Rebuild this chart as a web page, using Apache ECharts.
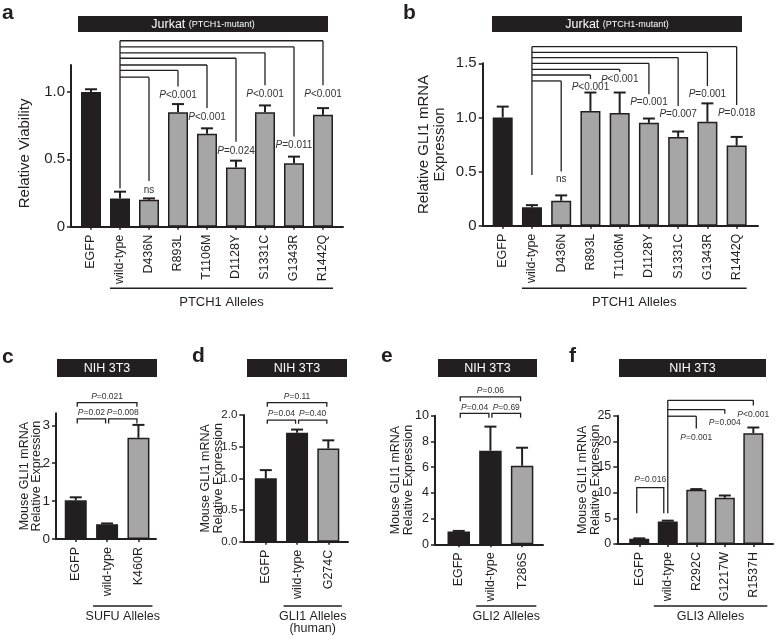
<!DOCTYPE html>
<html><head><meta charset="utf-8">
<script src="https://cdn.jsdelivr.net/npm/echarts@6/dist/echarts.min.js"></script>
<style>html,body{margin:0;padding:0;background:#fff}#c{width:779px;height:641px}</style>
</head><body><div id="c"></div>
<script>
// ===================== DATA =====================
// Panel a: Jurkat, relative viability
const aCats = ['EGFP','wild-type','D436N','R893L','T1106M','D1128Y','S1331C','G1343R','R1442Q'];
const aMeans = [1.00,0.21,0.20,0.85,0.69,0.44,0.85,0.47,0.83];
const aSem = [0.02,0.05,0.01,0.06,0.04,0.05,0.05,0.05,0.05];
const aTicks = [0,0.5,1.0];
const aTargets = [2,3,4,5,6,7,8];
const aBracketLevels = [1.11,1.16,1.20,1.25,1.29,1.335,1.38];
const aBracketEnds = [0.34,1.04,0.88,0.63,1.05,0.67,1.05];
const aBracketRoot = 0.285;
const aPLabels = ['ns','P<0.001','P<0.001','P=0.024','P<0.001','P=0.011','P<0.001'];

// Panel b: Jurkat, relative GLI1 mRNA
const bCats = ['EGFP','wild-type','D436N','R893L','T1106M','D1128Y','S1331C','G1343R','R1442Q'];
const bMeans = [1.00,0.17,0.23,1.06,1.04,0.95,0.82,0.96,0.74];
const bSem = [0.10,0.02,0.05,0.17,0.19,0.04,0.05,0.17,0.08];
const bTicks = [0,0.5,1.0,1.5];
const bTargets = [2,3,4,5,6,7,8];
const bBracketLevels = [1.337,1.392,1.444,1.50,1.552,1.601,1.654];
const bBracketEnds = [0.50,1.355,1.422,1.213,1.106,1.29,1.115];
const bBracketRoot = 0.468;
const bPLabels = ['ns','P<0.001','P<0.001','P=0.001','P=0.007','P=0.001','P=0.018'];

// Panel c: SUFU alleles
const cCats = ['EGFP','wild-type','K460R'];
const cMeans = [1.02,0.39,2.67];
const cSem = [0.08,0.02,0.34];
const cTicks = [0,1,2,3];
const cPairs = [[0,1],[1,2],[0,2]];
const cPairLevels = [3.17,3.17,3.60];
const cPairDrops = [3.05,3.05,3.49];
const cPLabels = ['P=0.02','P=0.008','P=0.021'];

// Panel d: GLI1 alleles (human)
const dCats = ['EGFP','wild-type','G274C'];
const dMeans = [1.00,1.72,1.47];
const dSem = [0.13,0.05,0.13];
const dTicks = [0,0.5,1.0,1.5,2.0];
const dPairs = [[0,1],[1,2],[0,2]];
const dPairLevels = [1.92,1.92,2.195];
const dPairDrops = [1.86,1.86,2.13];
const dPLabels = ['P=0.04','P=0.40','P=0.11'];

// Panel e: GLI2 alleles
const eCats = ['EGFP','wild-type','T286S'];
const eMeans = [1.00,7.28,6.11];
const eSem = [0.04,1.87,1.40];
const eTicks = [0,2,4,6,8,10];
const ePairs = [[0,1],[1,2],[0,2]];
const ePairLevels = [10.18,10.18,11.47];
const ePairDrops = [9.84,9.84,11.13];
const ePLabels = ['P=0.04','P=0.69','P=0.06'];

// Panel f: GLI3 alleles
const fCats = ['EGFP','wild-type','R292C','G1217W','R1537H'];
const fMeans = [1.00,4.40,10.55,9.00,21.60];
const fSem = [0.10,0.15,0.15,0.45,1.10];
const fTicks = [0,5,10,15,20,25];
const fPairs = [[0,1]];
const fPairLevels = [11.0];
const fPairDrops = [6.0];
const fPairLabels = ['P=0.016'];
const fTargets = [2,3,4];
const fBracketLevels = [24.9,26.2,28.0];
const fBracketEnds = [22.5,25.4,27.0];
const fBracketRoot = 6.0;
const fPLabels = ['P=0.001','P=0.004','P<0.001'];

// ===================== STYLE / LAYOUT =====================
const INK = '#231f20', GRAY = '#a6a6a6', PCOL = '#333333';
const FONT = '"Liberation Sans", Arial, Helvetica, sans-serif';

const fmt1 = v => (v === 0 ? '0' : v.toFixed(1));
const fmtInt = v => String(Math.round(v));
const fmtFix = v => v.toFixed(1);

const panels = [
  { letter:'a', lx:2, ly:13, cats:aCats, means:aMeans, sem:aSem, ticks:aTicks, yfmt:fmt1,
    grid:{left:71, top:65, width:272, height:161.7}, xr:[-0.69, 8.69], ymax:1.2,
    tickFont:15, name:'Relative Viability', nameGap:38, nameFont:15, nameLH:17, namePad:[0,15,0,0],
    barW:20, labelFont:12.5, group:'PTCH1 Alleles', groupLineY:288.3, groupTextY:296, groupFont:13, groupLH:13, groupExt:0,
    fan:{targets:aTargets, levels:aBracketLevels, ends:aBracketEnds, root:aBracketRoot, labels:aPLabels, font:10, gap:9},
    banner:{x:78, y:16, w:250, h:16, big:'Jurkat', small:'(PTCH1-mutant)'} },
  { letter:'b', lx:403, ly:13, cats:bCats, means:bMeans, sem:bSem, ticks:bTicks, yfmt:fmt1,
    grid:{left:482.7, top:63.3, width:275.3, height:162.4}, xr:[-0.684, 8.73], ymax:1.5,
    tickFont:15, name:'Relative GLI1 mRNA\nExpression', nameGap:34, nameFont:15, nameLH:16.7, namePad:0,
    barW:20, labelFont:12.5, group:'PTCH1 Alleles', groupLineY:288.3, groupTextY:296, groupFont:13, groupLH:13, groupExt:0,
    fan:{targets:bTargets, levels:bBracketLevels, ends:bBracketEnds, root:bBracketRoot, labels:bPLabels, font:10, gap:8},
    banner:{x:492, y:16, w:250, h:16, big:'Jurkat', small:'(PTCH1-mutant)'} },
  { letter:'c', lx:2, ly:357, cats:cCats, means:cMeans, sem:cSem, ticks:cTicks, yfmt:fmtInt,
    grid:{left:56, top:413.3, width:100, height:125.7}, xr:[-0.63, 2.56], ymax:3.316,
    tickFont:13.5, name:'Mouse GLI1 mRNA\nRelative Expression', nameGap:14, nameFont:12.5, nameLH:11.6, namePad:0,
    barW:22, labelFont:12.5, group:'SUFU Alleles', groupLineY:606, groupTextY:610.5, groupFont:12.5, groupLH:12, groupExt:3,
    pairs:{pairs:cPairs, levels:cPairLevels, drops:cPairDrops, labels:cPLabels, font:8.5, gap:6, inset:[1.5,1.5]},
    banner:{x:57, y:359, w:100, h:18, big:'NIH 3T3'} },
  { letter:'d', lx:192, ly:356, cats:dCats, means:dMeans, sem:dSem, ticks:dTicks, yfmt:fmtFix,
    grid:{left:243.3, top:415, width:104.7, height:126.7}, xr:[-0.72, 2.63], ymax:2.0,
    tickFont:11.5, name:'Mouse GLI1 mRNA\nRelative Expression', nameGap:18, nameFont:12.5, nameLH:13.3, namePad:0,
    barW:22, labelFont:12.5, group:'GLI1 Alleles\n(human)', groupLineY:606, groupTextY:610.8, groupFont:12.5, groupLH:11.6, groupExt:2.5,
    pairs:{pairs:dPairs, levels:dPairLevels, drops:dPairDrops, labels:dPLabels, font:8.5, gap:6, inset:[1.5,1.5]},
    banner:{x:247, y:359, w:100, h:18, big:'NIH 3T3'} },
  { letter:'e', lx:381, ly:356, cats:eCats, means:eMeans, sem:eSem, ticks:eTicks, yfmt:fmtInt,
    grid:{left:435, top:415.7, width:108, height:128.6}, xr:[-0.75, 2.66], ymax:10,
    tickFont:12.5, name:'Mouse GLI1 mRNA\nRelative Expression', nameGap:20, nameFont:12.5, nameLH:13.3, namePad:0,
    barW:22.5, labelFont:12.5, group:'GLI2 Alleles', groupLineY:606, groupTextY:610.5, groupFont:12.5, groupLH:12, groupExt:3,
    pairs:{pairs:ePairs, levels:ePairLevels, drops:ePairDrops, labels:ePLabels, font:8.5, gap:6, inset:[1.5,1.5]},
    banner:{x:438, y:359, w:99, h:18, big:'NIH 3T3'} },
  { letter:'f', lx:569, ly:356, cats:fCats, means:fMeans, sem:fSem, ticks:fTicks, yfmt:fmtInt,
    grid:{left:617.3, top:415.7, width:155.7, height:128.3}, xr:[-0.77, 4.69], ymax:25,
    tickFont:12.5, name:'Mouse GLI1 mRNA\nRelative Expression', nameGap:15, nameFont:12.5, nameLH:13.3, namePad:0,
    barW:20, labelFont:12.5, group:'GLI3 Alleles', groupLineY:606, groupTextY:610.5, groupFont:12.5, groupLH:12, groupExt:4,
    pairs:{pairs:fPairs, levels:fPairLevels, drops:fPairDrops, labels:fPairLabels, font:8.5, gap:8, inset:[-2.5,4]},
    fan:{targets:fTargets, levels:fBracketLevels, ends:fBracketEnds, root:fBracketRoot, labels:fPLabels, font:8.5, gap:9},
    banner:{x:619, y:359, w:147, h:18, big:'NIH 3T3'} }
];

// ===================== BUILD =====================
function pRich(s) {
  return s.charAt(0) === 'P' ? '{i|P}{n|' + s.slice(1) + '}' : '{n|' + s + '}';
}
function pText(s, x, y, size, va) {
  return { type:'text', style:{ text:pRich(s), x:x, y:y, align:'center', verticalAlign:va || 'middle',
    fontFamily:FONT, fontSize:size, fill:PCOL,
    rich:{ i:{fontStyle:'italic', fontSize:size, fontFamily:FONT, fill:PCOL}, n:{fontSize:size, fontFamily:FONT, fill:PCOL} } } };
}
function seg(x1,y1,x2,y2,w) {
  return { type:'line', shape:{x1:x1,y1:y1,x2:x2,y2:y2}, style:{stroke:INK, lineWidth:w || 1.3} };
}

const grids = [], xAxes = [], yAxes = [], series = [], graphics = [];

panels.forEach((p, gi) => {
  grids.push(Object.assign({}, p.grid));
  const idx = p.cats.map((c, i) => i);
  xAxes.push({
    gridIndex:gi, type:'value', min:p.xr[0], max:p.xr[1],
    axisLine:{show:true, onZero:false, lineStyle:{color:INK, width:2}},
    axisTick:{show:true, customValues:idx, length:3, lineStyle:{color:INK, width:1.5}},
    axisLabel:{show:true, customValues:idx, rotate:90, margin:8, fontSize:p.labelFont, color:INK, fontFamily:FONT,
      formatter:v => p.cats[Math.round(v)]},
    splitLine:{show:false}
  });
  yAxes.push({
    gridIndex:gi, type:'value', min:0, max:p.ymax,
    axisLine:{show:true, onZero:false, lineStyle:{color:INK, width:2}},
    axisTick:{show:true, customValues:p.ticks, length:4, lineStyle:{color:INK, width:1.5}},
    axisLabel:{show:true, customValues:p.ticks, margin:6, fontSize:p.tickFont, color:INK, fontFamily:FONT, formatter:p.yfmt},
    splitLine:{show:false},
    name:p.name, nameLocation:'middle', nameGap:p.nameGap, nameMoveOverlap:false,
    nameTextStyle:{fontSize:p.nameFont, lineHeight:p.nameLH, color:INK, fontFamily:FONT, padding:p.namePad}
  });

  // bars
  series.push({
    type:'bar', xAxisIndex:gi, yAxisIndex:gi, barWidth:p.barW,
    data:p.means.map((v, i) => ({ value:[i, v], itemStyle:{ color: i < 2 ? INK : GRAY } })),
    itemStyle:{ borderColor:INK, borderWidth:1.5 }, silent:true, z:2
  });

  // error bars (upper only)
  series.push({
    type:'custom', xAxisIndex:gi, yAxisIndex:gi, z:3, silent:true,
    data:p.means.map((v, i) => [i, v, v + p.sem[i]]),
    encode:{x:0, y:[1,2]},
    renderItem:(params, api) => {
      const a = api.coord([api.value(0), api.value(1)]);
      const b = api.coord([api.value(0), api.value(2)]);
      return { type:'group', children:[ seg(a[0], a[1], b[0], b[1], 2), seg(b[0]-6, b[1], b[0]+6, b[1], 2) ] };
    }
  });

  // fan-type brackets from wild-type
  if (p.fan) {
    const f = p.fan;
    series.push({
      type:'custom', xAxisIndex:gi, yAxisIndex:gi, z:4, silent:true,
      data:f.targets.map((t, k) => [t, f.levels[k], f.ends[k], k]),
      encode:{x:0, y:[1,2]},
      renderItem:(params, api) => {
        const t = api.value(0), lev = api.value(1), end = api.value(2), k = api.value(3);
        const r = api.coord([1, lev]);
        const a = api.coord([t, lev]);
        const e = api.coord([t, end]);
        const kids = [ seg(r[0], r[1], a[0], a[1]), seg(a[0], a[1], e[0], e[1]) ];
        kids.push(pText(f.labels[k], e[0], e[1] + f.gap, f.font));
        if (k === f.targets.length - 1) {
          const rb = api.coord([1, f.root]);
          kids.push(seg(r[0], r[1], rb[0], rb[1]));
        }
        return { type:'group', children:kids };
      }
    });
  }

  // pair brackets
  if (p.pairs) {
    const q = p.pairs;
    series.push({
      type:'custom', xAxisIndex:gi, yAxisIndex:gi, z:4, silent:true,
      data:q.pairs.map((pr, k) => [pr[0], q.levels[k], pr[1], q.drops[k], k]),
      encode:{x:[0,2], y:[1,3]},
      renderItem:(params, api) => {
        const i = api.value(0), lev = api.value(1), j = api.value(2), dr = api.value(3), k = api.value(4);
        const a = api.coord([i, lev]), b = api.coord([j, lev]);
        const yd = api.coord([i, dr])[1];
        const x1 = a[0] + q.inset[0], x2 = b[0] - q.inset[1];
        return { type:'group', children:[
          { type:'polyline', shape:{ points:[[x1, yd],[x1, a[1]],[x2, a[1]],[x2, yd]] }, style:{ stroke:INK, lineWidth:1.3, fill:null } },
          pText(q.labels[k], (x1 + x2) / 2, a[1] - q.gap, q.font)
        ] };
      }
    });
  }

  // allele group line and label
  series.push({
    type:'custom', xAxisIndex:gi, yAxisIndex:gi, z:4, silent:true,
    data:[[1, 0, p.cats.length - 1]],
    encode:{x:[0,2], y:1},
    renderItem:(params, api) => {
      const x1 = api.coord([api.value(0), 0])[0] - p.barW / 2 - p.groupExt;
      const x2 = api.coord([api.value(2), 0])[0] + p.barW / 2 + p.groupExt;
      return { type:'group', children:[
        seg(x1, p.groupLineY, x2, p.groupLineY, 1.5),
        { type:'text', style:{ text:p.group, x:(x1 + x2) / 2, y:p.groupTextY, align:'center', verticalAlign:'top',
          fontFamily:FONT, fontSize:p.groupFont, lineHeight:p.groupLH, fill:INK } }
      ] };
    }
  });

  // banner
  const bn = p.banner;
  const btext = bn.small ? '{a|' + bn.big + '} {b|' + bn.small + '}' : '{a|' + bn.big + '}';
  graphics.push({ type:'rect', shape:{x:bn.x, y:bn.y, width:bn.w, height:bn.h}, style:{fill:INK}, silent:true });
  graphics.push({ type:'text', x:bn.x + bn.w / 2, y:bn.y + bn.h / 2 + 0.5, silent:true,
    style:{ text:btext, align:'center', verticalAlign:'middle', fill:'#fff', fontFamily:FONT,
      rich:{ a:{fontSize:12.5, fill:'#fff', fontFamily:FONT}, b:{fontSize:9, fill:'#fff', fontFamily:FONT} } } });

  // panel letter
  graphics.push({ type:'text', x:p.lx, y:p.ly, silent:true,
    style:{ text:p.letter, fontFamily:FONT, fontWeight:'bold', fontSize:21, fill:INK, verticalAlign:'middle', align:'left' } });
});

const chart = echarts.init(document.getElementById('c'), null, {renderer:'canvas'});
chart.setOption({
  animation:false,
  backgroundColor:'#ffffff',
  grid:grids, xAxis:xAxes, yAxis:yAxes, series:series,
  graphic:{ elements:graphics }
});
</script>
</body></html>
